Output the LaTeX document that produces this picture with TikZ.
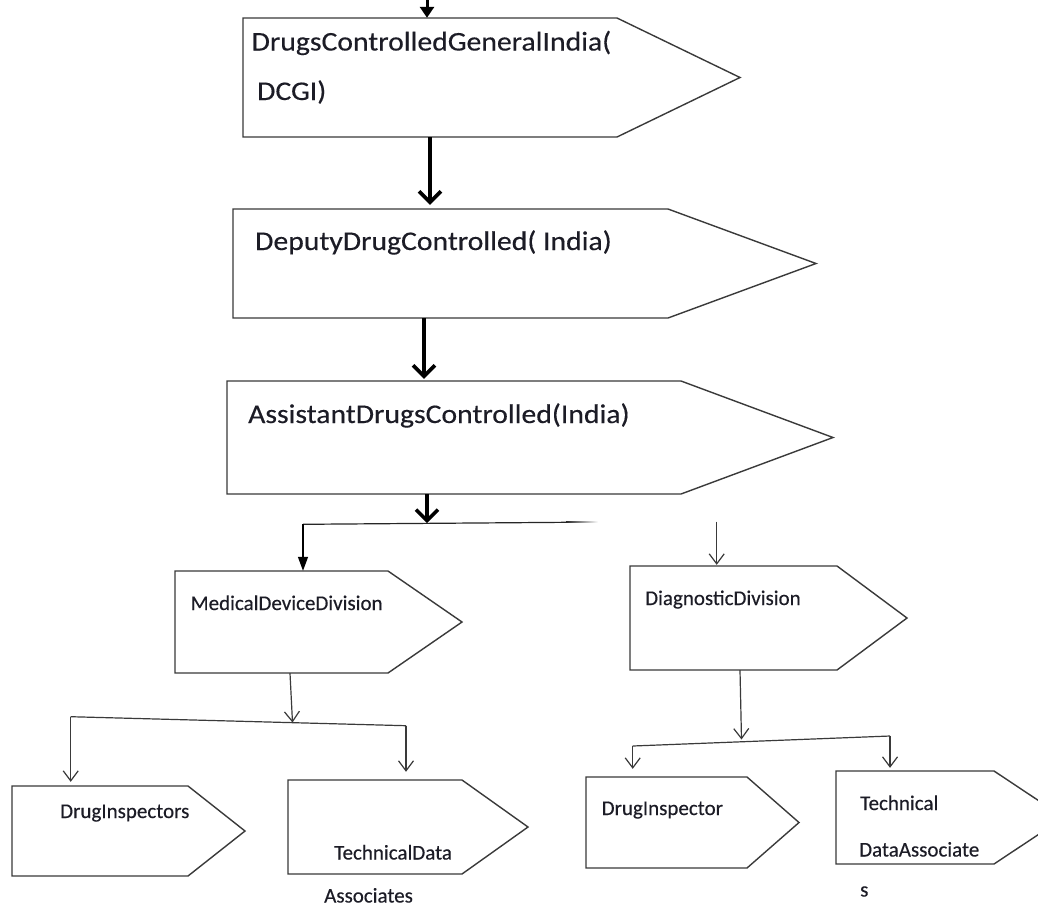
\documentclass[tikz,border=0pt]{standalone}
\usepackage{fontspec}
\usepackage{graphicx}
\setmainfont[FakeBold=0.3]{Carlito}
\usetikzlibrary{arrows.meta,fit}
\definecolor{edge}{HTML}{3A3A3A}
\definecolor{ink}{HTML}{1C1C26}
\tikzset{
  boxline/.style={draw=edge, line width=1.4pt, fill=white, line join=miter},
  big/.style={draw=black, line width=3.6pt, -{Straight Barb[length=11pt,width=22pt]}},
  thinline/.style={draw=edge, line width=1.2pt},
  vhead/.style={thinline, -{Straight Barb[length=10pt,width=15pt]}},
  trihead/.style={draw=black, line width=1.3pt, -{Triangle[length=14pt,width=10pt]}},
  toptri/.style={draw=black, line width=3pt, -{Triangle[length=11pt,width=14pt]}},
  toptxt/.style={anchor=base west, inner sep=0pt, text=ink, font=\fontsize{27}{30}\selectfont},
  lowtxt/.style={anchor=base west, inner sep=0pt, text=ink, font=\fontsize{21}{24}\selectfont},
  frame/.style={inner sep=0pt, draw=none},
}
% name, left, top, point start, tip, bottom
\newcommand\pentbox[6]{%
  \draw[boxline] (#2,#3) -- (#4,#3) -- (#5,{(#3+#6)/2}) -- (#4,#6) -- (#2,#6) -- cycle;
  \coordinate (#1-nw) at (#2,#3);
  \coordinate (#1-se) at (#5,#6);
  \node[frame, fit=(#1-nw)(#1-se)] (#1) {};
}
\newcommand\wide[1]{\scalebox{1.1}[1]{#1}}
\begin{document}
\begin{tikzpicture}[x=1pt,y=-1pt]
\useasboundingbox (0,0) rectangle (1038,906);
\fill[white] (0,0) rectangle (1038,906);
\clip (0,0) rectangle (1038,906);

% boxes
\pentbox{dcgi}{243}{18}{617}{740}{137}
\pentbox{ddc}{233}{209}{668}{816}{318}
\pentbox{adc}{227}{381}{681}{833}{494}
\pentbox{mdd}{175}{571}{388}{462}{673}
\pentbox{dd}{630}{566}{837}{907}{670}
\pentbox{di}{12}{786}{188}{245}{876}
\pentbox{td}{288}{780}{462}{528}{874}
\pentbox{dii}{586}{777}{747}{799}{868}
\pentbox{tdd}{836}{771}{994}{1064}{864}

% texts
\node[toptxt] (t1a) at (251.5,50.5) {\wide{DrugsControlledGeneralIndia(}};
\node[toptxt] (t1b) at (257,100) {\wide{DCGI)}};
\node[toptxt] (t2) at (255,250) {\wide{DeputyDrugControlled( India)}};
\node[toptxt] (t3) at (248,423) {\wide{AssistantDrugsControlled(India)}};
\node[lowtxt] (t4) at (190.5,610) {MedicalDeviceDivision};
\node[lowtxt] (t5) at (645,605) {DiagnosticDivision};
\node[lowtxt] (t6) at (60,818) {DrugInspectors};
\node[lowtxt] (t7a) at (334,859.5) {TechnicalData};
\node[lowtxt] (t7b) at (324,902.5) {Associates};
\node[lowtxt] (t8) at (601.5,815) {DrugInspector};
\node[lowtxt] (t9a) at (860,810) {Technical};
\node[lowtxt] (t9b) at (859,856.5) {DataAssociate};
\node[lowtxt] (t9c) at (860,896.5) {s};

% coordinates for connectors
\coordinate (top) at (427,0);
\coordinate (x1) at (430,0);
\coordinate (x2) at (424,0);
\coordinate (x3) at (427,0);
\coordinate (hA) at (303,524.3);
\coordinate (hM) at (427,523.2);
\coordinate (hB) at (566,522.3);
\coordinate (rA) at (716.7,521.7);
\coordinate (mA) at (292.5,722.5);
\coordinate (mL) at (70.7,716.7);
\coordinate (mR) at (406,725.7);
\coordinate (dA) at (741.5,739.5);
\coordinate (dL) at (632.7,746);
\coordinate (dR) at (890,736);

% top level arrows
\draw[toptri] (top) -- (top |- dcgi.north);
\draw[big, shorten >=4pt] (x1 |- dcgi.south) -- (x1 |- ddc.north);
\draw[big, shorten >=2pt] (x2 |- ddc.south) -- (x2 |- adc.north);
\draw[big] (x3 |- adc.south) -- (hM);

% split below the assistant box
\draw[thinline, draw=black!85] (hA) -- (hB);
\shade[left color=black!85, right color=white] (566,521.7) rectangle (598,522.9);
\draw[trihead] (hA) -- (hA |- mdd.north);
\draw[vhead, shorten >=1pt] (rA) -- (rA |- dd.north);

% medical device division branches
\draw[vhead] (mdd.south -| 290,0) -- (mA);
\draw[thinline] (mL) -- (mR);
\draw[vhead, shorten >=4pt] (mL) -- (mL |- di.north);
\draw[vhead, shorten >=8pt] (mR) -- (mR |- td.north);

% diagnostic division branches
\draw[vhead] (dd.south -| 740,0) -- (dA);
\draw[thinline] (dL) -- (dR);
\draw[vhead, shorten >=8pt] (dL) -- (dL |- dii.north);
\draw[vhead, shorten >=3pt] (dR) -- (dR |- tdd.north);
\end{tikzpicture}
\end{document}
